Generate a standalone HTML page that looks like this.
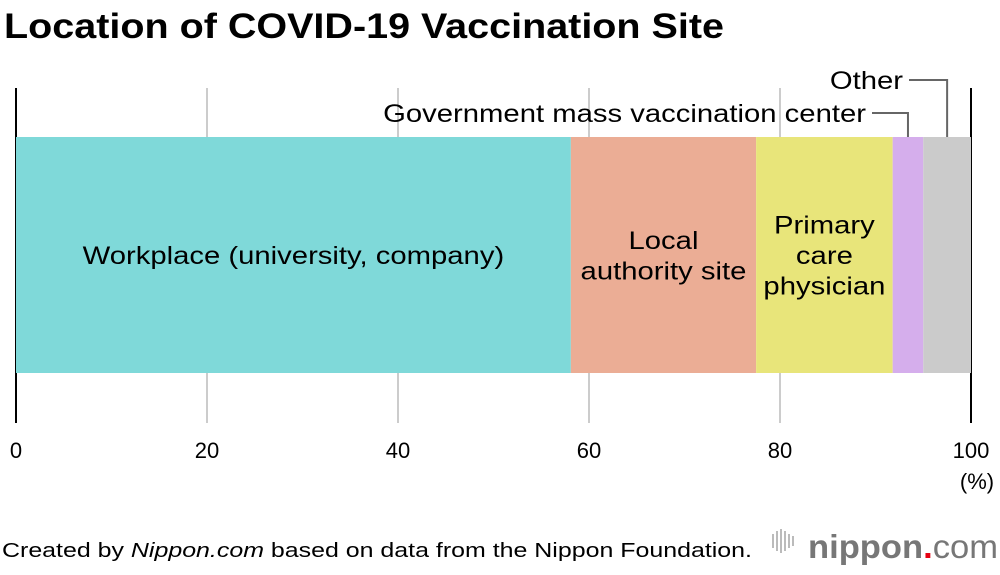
<!DOCTYPE html>
<html><head><meta charset="utf-8"><style>
body{margin:0;background:#fff;font-family:"Liberation Sans",Arial,sans-serif;}
svg text{font-family:"Liberation Sans",Arial,sans-serif;}
</style></head><body>
<svg id="c" width="1000" height="570" xmlns="http://www.w3.org/2000/svg">
<text x="4" y="38" font-size="35" font-weight="bold" fill="#000" textLength="720" lengthAdjust="spacingAndGlyphs">Location of COVID-19 Vaccination Site</text>
<g id="grid"></g><g id="bars"></g><g id="labels"></g>
<text x="2" y="557" font-size="20" fill="#000" textLength="750" lengthAdjust="spacingAndGlyphs">Created by <tspan font-style="italic">Nippon.com</tspan> based on data from the Nippon Foundation.</text>
<g>
<g fill="#bbb"><rect x="772" y="534" width="2" height="14"/><rect x="776" y="531" width="2" height="20"/><rect x="780" y="529" width="2" height="24"/><rect x="784" y="531" width="2" height="20"/><rect x="788" y="534" width="2" height="14"/><rect x="792" y="536" width="2" height="10"/></g>
<text x="808" y="558" font-size="33" font-weight="bold" fill="#777" textLength="190" lengthAdjust="spacingAndGlyphs">nippon<tspan fill="#e60012">.</tspan><tspan font-weight="normal">com</tspan></text>
</g>
</svg>
<script>
const categories=["Workplace (university, company)","Local authority site","Primary care physician","Government mass vaccination center","Other"];
const values=[58.1,19.4,14.3,3.2,5.0];
const colors=["#7fd9d9","#ebad95","#e8e57a","#d5aeec","#cbcbcb"];
const ticks=[0,20,40,60,80,100];
const NS="http://www.w3.org/2000/svg";
const X0=16,X1=971,YT=137,YB=373;
const x=v=>X0+(X1-X0)*v/100;
const SC=1.17;
function mk(tag,attrs,parent,txt){const e=document.createElementNS(NS,tag);for(const k in attrs)e.setAttribute(k,attrs[k]);if(txt!==undefined)e.textContent=txt;document.getElementById(parent).appendChild(e);return e;}
function stretch(t){const w=t.getComputedTextLength();t.setAttribute('textLength',w*SC);t.setAttribute('lengthAdjust','spacingAndGlyphs');}
ticks.forEach((t,i)=>{
 const edge=(i===0||i===ticks.length-1);
 const l=mk("line",{x1:x(t),x2:x(t),y1:88,y2:423,stroke:edge?"#000":"#ccc","stroke-width":2},"grid");
 
 
 const tx=mk("text",{x:x(t),y:458,"font-size":22,"text-anchor":"middle",fill:"#000"},"grid",String(t));
 
 
});
const pct=mk("text",{x:977,y:489,"font-size":22,"text-anchor":"middle"},"grid","(%)");


let cum=0;const mids=[];
values.forEach((v,i)=>{
 const r=mk("rect",{x:x(cum),y:YT,width:x(cum+v)-x(cum),height:YB-YT,fill:colors[i]},"bars");
 
 
 mids.push([x(cum),x(cum+v)]);cum+=v;
});
function inner(lines,i){const cx=(mids[i][0]+mids[i][1])/2;const n=lines.length;
 lines.forEach((s,k)=>{const t=mk("text",{x:cx,y:(YT+YB)/2+9+(k-(n-1)/2)*30.5,"font-size":25,"text-anchor":"middle"},"labels",s);
 
 
 stretch(t);});}
inner(["Workplace (university, company)"],0);
inner(["Local","authority site"],1);
inner(["Primary","care","physician"],2);
function lead(label,i,ty,tx){const cx=(mids[i][0]+mids[i][1])/2;
 const t=mk("text",{x:tx,y:ty+9,"font-size":25,"text-anchor":"end"},"labels",label);
 
 
 stretch(t);
 const p=mk("polyline",{points:`${tx+6},${ty} ${cx},${ty} ${cx},${YT}`,fill:"none",stroke:"#666","stroke-width":2},"labels");
 
 }
lead(categories[3],3,113,866);
lead(categories[4],4,80,903);
</script>
</body></html>
